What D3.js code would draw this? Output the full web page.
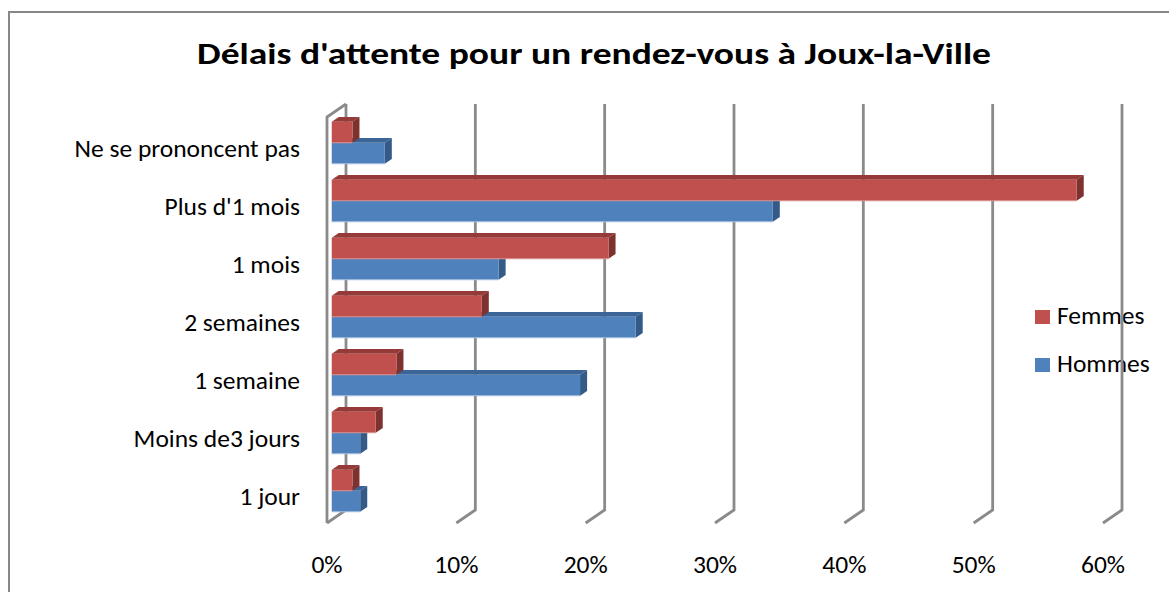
<!DOCTYPE html>
<html>
<head>
<meta charset="utf-8">
<script src="https://cdn.jsdelivr.net/npm/d3@7"></script>
<style>
  html, body { margin: 0; padding: 0; background: #fff; }
  svg { display: block; font-family: Carlito, Calibri, Lato, sans-serif; }
</style>
</head>
<body>
<svg id="chart" width="1169" height="592"></svg>
<script>
// data
const categories = ['Ne se prononcent pas', "Plus d'1 mois", '1 mois', '2 semaines', '1 semaine', 'Moins de3 jours', '1 jour']
const seriesNames = ['Femmes', 'Hommes']
const femmes = [0.016, 0.576, 0.214, 0.116, 0.050, 0.034, 0.016]
const hommes = [0.041, 0.341, 0.129, 0.235, 0.192, 0.022, 0.022]
const tickValues = [0, 0.1, 0.2, 0.3, 0.4, 0.5, 0.6]

const colors = {
	Femmes: { front: '#C0504D', top: '#953A38', side: '#7E3230', edge: '#D99594' },
	Hommes: { front: '#4F81BD', top: '#3B6497', side: '#345A88', edge: '#A7BFDE' }
}

const svg = d3.select('#chart')
const gridColor = '#8A8A8A'
const labelSize = 25.5

// 3d box: front plane plus a depth vector going up-right
const depth = { dx: 19, dy: -13 }
const barDepth = [0.25, 0.62]
const P = (x, y, t) => [x + depth.dx * t, y + depth.dy * t]

const x = d3.scaleLinear().domain([0, 0.6]).range([327, 1103])
const y = d3.scaleBand().domain(categories).range([117, 523])
const ySeries = d3.scaleBand().domain(seriesNames).range([0, y.bandwidth()]).paddingOuter(0.38)

// chart border
svg.append('rect')
	.attr('x', 9).attr('y', 12)
	.attr('width', 1200).attr('height', 620)
	.attr('fill', 'none')
	.attr('stroke', '#878787')
	.attr('stroke-width', 2)

// title
svg.append('text')
	.attr('x', 594).attr('y', 64)
	.attr('text-anchor', 'middle')
	.attr('font-size', 31)
	.attr('font-weight', 'bold')
	.attr('textLength', 794)
	.attr('lengthAdjust', 'spacingAndGlyphs')
	.text("Délais d'attente pour un rendez-vous à Joux-la-Ville")

// legend (grid line of 60% passes over it)
const legend = svg.append('g')
seriesNames.forEach((name, i) => {
	legend.append('rect')
		.attr('x', 1035).attr('y', 310 + i * 48)
		.attr('width', 15).attr('height', 14)
		.attr('fill', colors[name].front)
	legend.append('text')
		.attr('x', 1057).attr('y', 324 + i * 48)
		.attr('font-size', labelSize)
		.text(name)
})

// walls and grid
const [yTop, yBottom] = y.range()
const grid = svg.append('g')
	.attr('stroke', gridColor)
	.attr('stroke-width', 2.8)
	.attr('fill', 'none')
	.attr('stroke-linecap', 'butt')

const line = d3.line()
tickValues.forEach(v => {
	grid.append('path').attr('d', line([P(x(v), yTop, 1), P(x(v), yBottom, 1), P(x(v), yBottom, 0)]))
})
// left wall front edge
grid.append('path').attr('d', line([P(x(0), yBottom, 0), P(x(0), yTop, 0), P(x(0), yTop, 1)]))

// bars
const values = { Femmes: femmes, Hommes: hommes }
const bars = svg.append('g')
categories.forEach((cat, ci) => {
	// draw Hommes first so the Femmes bar above covers its top face
	;['Hommes', 'Femmes'].forEach(name => {
		const v = values[name][ci]
		const x0 = x(0)
		const x1 = x(v)
		const y0 = y(cat) + ySeries(name)
		const y1 = y0 + ySeries.bandwidth()
		const c = colors[name]
		const [t1, t2] = barDepth
		const g = bars.append('g')
		g.append('path')
			.attr('d', line([P(x0, y0, t1), P(x1, y0, t1), P(x1, y0, t2), P(x0, y0, t2)]) + 'Z')
			.attr('fill', c.top)
		g.append('path')
			.attr('d', line([P(x1, y0, t1), P(x1, y0, t2), P(x1, y1, t2), P(x1, y1, t1)]) + 'Z')
			.attr('fill', c.side)
		const f = P(x0, y0, t1)
		g.append('rect')
			.attr('x', f[0]).attr('y', f[1])
			.attr('width', x1 - x0).attr('height', y1 - y0)
			.attr('fill', c.front)
		g.append('path')
			.attr('d', line([P(x0, y1, t1), P(x1, y1, t1)]))
			.attr('stroke', c.edge)
			.attr('stroke-width', 1)
	})
})

// category labels
svg.append('g')
	.selectAll('text')
	.data(categories)
	.enter()
	.append('text')
	.attr('x', 300)
	.attr('y', d => y(d) + y.bandwidth() / 2 + 11)
	.attr('text-anchor', 'end')
	.attr('font-size', labelSize)
	.text(d => d)

// x tick labels
svg.append('g')
	.selectAll('text')
	.data(tickValues)
	.enter()
	.append('text')
	.attr('x', d => x(d))
	.attr('y', 573)
	.attr('text-anchor', 'middle')
	.attr('font-size', labelSize)
	.text(d3.format('.0%'))
</script>
</body>
</html>
